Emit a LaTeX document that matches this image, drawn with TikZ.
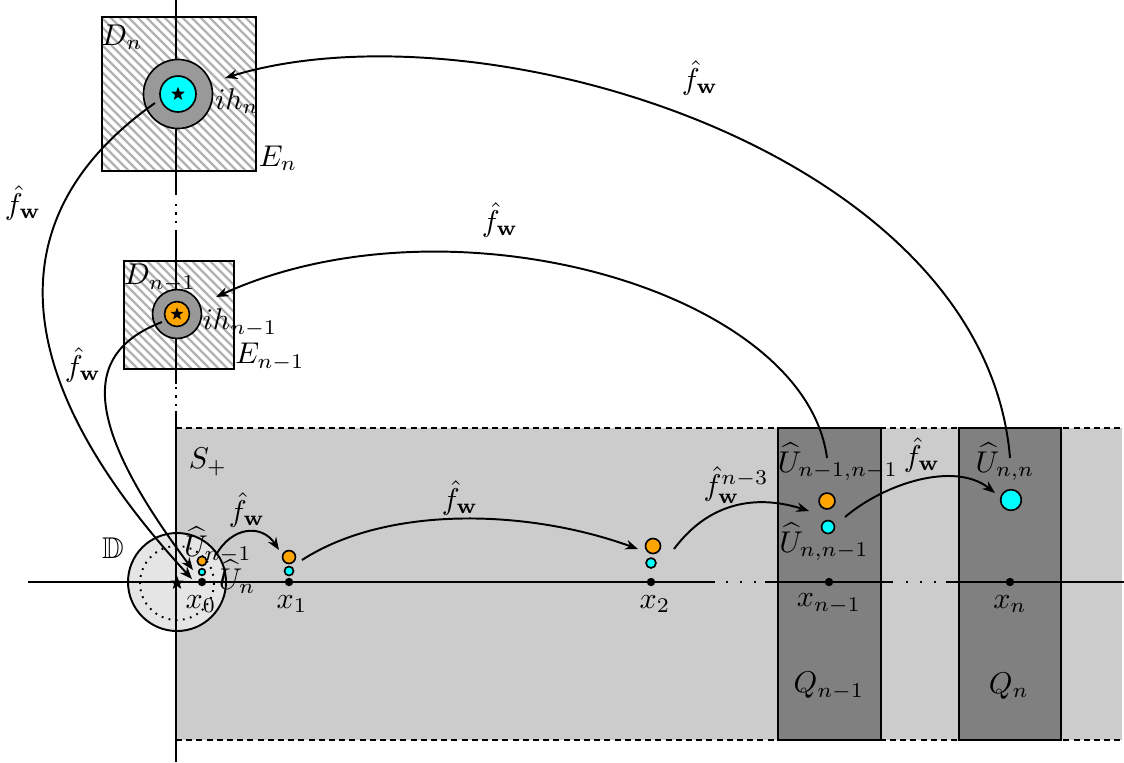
\documentclass[tikz,border=0pt]{standalone}
\usepackage{amssymb}
\usetikzlibrary{shapes.geometric,arrows.meta,patterns}
\definecolor{myorange}{RGB}{255,165,0}
\definecolor{mycyan}{RGB}{0,255,255}
\pgfdeclarepatternformonly{hatchlines}{\pgfqpoint{-1pt}{-1pt}}{\pgfqpoint{4pt}{4pt}}{\pgfqpoint{3pt}{3pt}}{\pgfsetlinewidth{0.8pt}\pgfpathmoveto{\pgfqpoint{0pt}{3pt}}\pgfpathlineto{\pgfqpoint{3.1pt}{-0.1pt}}\pgfusepath{stroke}}
\begin{document}
\begin{tikzpicture}[x=0.33333pt,y=-0.33333pt,line width=0.65pt,
  arr/.style={-{Stealth[length=4.2pt,width=3.2pt]}},
  blob/.style={circle,draw,inner sep=0pt,line width=0.55pt},
  dotpt/.style={circle,fill=black,inner sep=0pt,minimum size=2.8pt},
  starn/.style={star,star points=5,star point ratio=2.4,fill=black,inner sep=0pt,minimum size=4.8pt},
  hatchbox/.style={draw,pattern=hatchlines,pattern color=gray!60},
  dotgap/.style={dash pattern=on 0.7pt off 2.1pt},
  hdots/.style={dash pattern=on 0.8pt off 3.87pt},
  bord/.style={dash pattern=on 2pt off 1.4pt},
  strip/.style={draw,fill=gray}]
\useasboundingbox (0,0) rectangle (1124,762);
% S+ region
\fill[gray!40] (176,428) rectangle (1122,740);
\draw[bord] (176,428) -- (1122,428);
\draw[bord] (176,740) -- (1122,740);
\draw[strip] (778,428) rectangle (881,740);
\draw[strip] (959,428) rectangle (1061,740);
% hatched boxes
\draw[hatchbox] (102,17) rectangle (256,171);
\draw[hatchbox] (124,261) rectangle (234,369);
% unit disk
\draw[fill=gray!20] (177,582) circle[radius=49];
\draw[dash pattern=on 0.6pt off 1.8pt] (177,583) circle[radius=37];
% axes
\draw (176,0) -- (176,195);
\draw[dotgap] (176,204) -- (176,224);
\draw (176,230) -- (176,384);
\draw[dotgap] (176,387) -- (176,407);
\draw (176,411) -- (176,762);
\draw (28,582) -- (715,582);
\draw[hdots] (726,582) -- (757,582);
\draw (765,582) -- (893,582);
\draw[hdots] (906,582) -- (938,582);
\draw (946,582) -- (1124,582);
% rings
\node[blob,fill=gray!80,minimum size=23pt] (ringN) at (178,94) {};
\node[blob,fill=mycyan,minimum size=12pt] (cN) at (178,94) {};
\node[starn] (sN) at (178,94) {};
\node[blob,fill=gray!80,minimum size=16.3pt] (ringM) at (177,314) {};
\node[blob,fill=myorange,minimum size=8.3pt] (oM) at (177,314) {};
\node[starn,minimum size=4.4pt] (sM) at (177,314) {};
\node[starn] (s0) at (177,583) {};
% small sets
\node[blob,fill=myorange,minimum size=3.1pt] (o0) at (202,561) {};
\node[blob,fill=mycyan,minimum size=2.2pt] (c0) at (202,572) {};
\node[blob,fill=myorange,minimum size=4.3pt] (o1) at (289,557) {};
\node[blob,fill=mycyan,minimum size=3pt] (c1) at (289,571) {};
\node[blob,fill=myorange,minimum size=5pt] (o2) at (653,546) {};
\node[blob,fill=mycyan,minimum size=3.3pt] (c2) at (651,563) {};
\node[blob,fill=myorange,minimum size=5.3pt] (o3) at (827,501) {};
\node[blob,fill=mycyan,minimum size=4.3pt] (c3) at (828,527) {};
\node[blob,fill=mycyan,minimum size=6.9pt] (c4) at (1011,500) {};
% points
\node[dotpt] (x0) at (202,582) {};
\node[dotpt] (x1) at (289,582) {};
\node[dotpt] (x2) at (651,582) {};
\node[dotpt] (x3) at (829,582) {};
\node[dotpt] (x4) at (1010,582) {};
% labels
\node (lDn) at (122,37) {$D_n$};
\node (lihn) at (237,101) {$ih_n$};
\node (lEn) at (278,158) {$E_n$};
\node (lDm) at (160,278) {$D_{n-1}$};
\node (lihm) at (240,323) {$ih_{n-1}$};
\node (lEm) at (270,357) {$E_{n-1}$};
\node (lS) at (208,462) {$S_+$};
\node (lD) at (113,548) {$\mathbb{D}$};
\node (lUm) at (218,545) {$\widehat{U}_{n-1}$};
\node (lUn) at (237,577) {$\widehat{U}_n$};
\node (lx0) at (201,604) {$x_0$};
\node (lx1) at (292,604) {$x_1$};
\node (lx2) at (655,604) {$x_2$};
\node (lx3) at (829,604) {$x_{n-1}$};
\node (lx4) at (1010,604) {$x_n$};
\node (lQm) at (829,686) {$Q_{n-1}$};
\node (lQn) at (1009,686) {$Q_n$};
\node (lUmm) at (838,462) {$\widehat{U}_{n-1,n-1}$};
\node (lUnm) at (824,542) {$\widehat{U}_{n,n-1}$};
\node (lUnn) at (1005,462) {$\widehat{U}_{n,n}$};
\node (f1) at (247,510) {$\hat{f}_{\mathbf{w}}$};
\node (f2) at (460,498) {$\hat{f}_{\mathbf{w}}$};
\node (f3) at (736,485) {$\hat{f}_{\mathbf{w}}^{n-3}$};
\node (f4) at (922,455) {$\hat{f}_{\mathbf{w}}$};
\node (f5) at (500,220) {$\hat{f}_{\mathbf{w}}$};
\node (f6) at (700,78) {$\hat{f}_{\mathbf{w}}$};
\node (f7) at (23,203) {$\hat{f}_{\mathbf{w}}$};
\node (f8) at (83,365) {$\hat{f}_{\mathbf{w}}$};
% arrow endpoints
\coordinate (a1s) at (216,555); \coordinate (a1e) at (279,550);
\coordinate (a2s) at (302,560); \coordinate (a2e) at (638,549);
\coordinate (a3s) at (674,549); \coordinate (a3e) at (809,511);
\coordinate (a4s) at (845,517); \coordinate (a4e) at (995,493);
\coordinate (a5s) at (827,458); \coordinate (a5e) at (216,297);
\coordinate (a6s) at (1010,458); \coordinate (a6e) at (225,78);
\coordinate (a7s) at (155,103); \coordinate (a7e) at (192,579);
\coordinate (a8s) at (162,322); \coordinate (a8e) at (193,570);
% arrows
\draw[arr] (a1s) .. controls (232,526) and (262,524) .. (a1e);
\draw[arr] (a2s) .. controls (387,505) and (528,509) .. (a2e);
\draw[arr] (a3s) .. controls (712,498) and (762,496) .. (a3e);
\draw[arr] (a4s) .. controls (885,483) and (955,461) .. (a4e);
\draw[arr] (a5s) .. controls (805,290) and (450,190) .. (a5e);
\draw[arr] (a6s) .. controls (985,150) and (480,0) .. (a6e);
\draw[arr] (a7s) .. controls (10,205) and (-10,360) .. (a7e);
\draw[arr] (a8s) .. controls (90,350) and (73,410) .. (a8e);
\end{tikzpicture}
\end{document}
